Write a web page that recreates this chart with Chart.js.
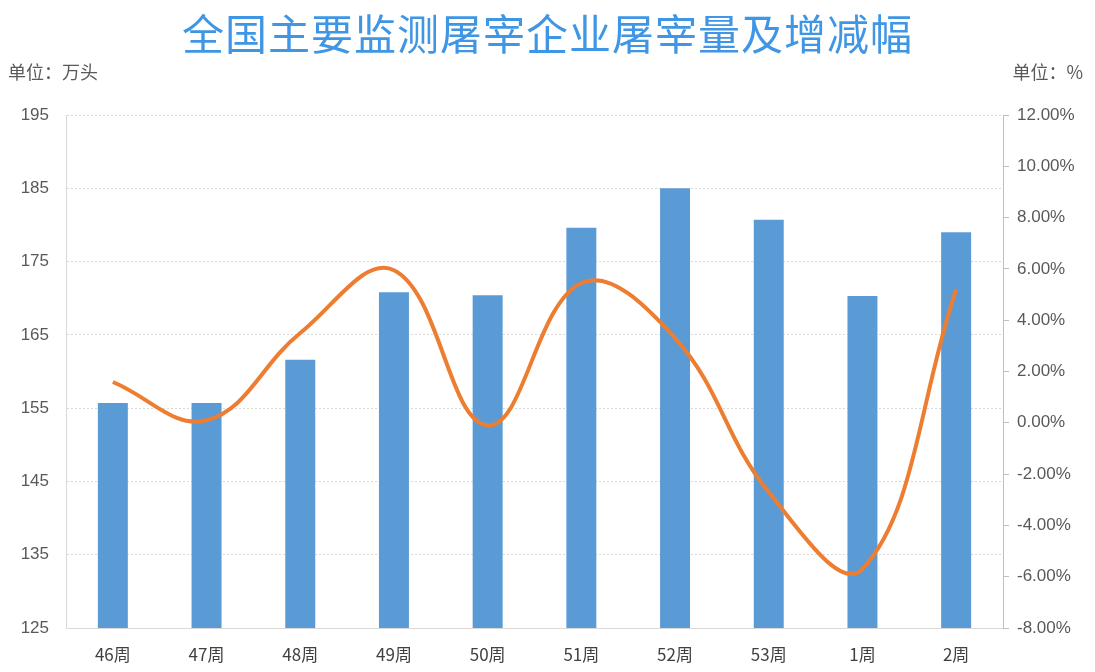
<!DOCTYPE html>
<html lang="zh">
<head>
<meta charset="UTF-8">
<title>全国主要监测屠宰企业屠宰量及增减幅</title>
<script src="https://cdn.jsdelivr.net/npm/chart.js"></script>
<style>
  html, body { margin: 0; padding: 0; background: #fff; }
  #wrap { position: relative; width: 1095px; height: 672px; font-family: "Noto Sans CJK SC", "Noto Sans", sans-serif; }
  #title { position: absolute; left: 0; top: 1px; width: 1095px; text-align: center; font-size: 42px; color: #3f96e4; letter-spacing: 1px; }
  .unit { position: absolute; top: 58px; font-size: 18px; color: #595959; }
  #unitL { left: 8px; }
  #unitR { right: 12px; }
  canvas { position: absolute; left: 0; top: 0; }
</style>
</head>
<body>
<div id="wrap">
  <canvas id="c" width="1095" height="672"></canvas>
  <div id="title">全国主要监测屠宰企业屠宰量及增减幅</div>
  <div class="unit" id="unitL">单位：万头</div>
  <div class="unit" id="unitR">单位：%</div>
</div>
<script>
const weeks = ['46周', '47周', '48周', '49周', '50周', '51周', '52周', '53周', '1周', '2周'];
const slaughter = [155.7, 155.7, 161.6, 170.8, 170.4, 179.6, 185.0, 180.7, 170.3, 179.0];
const changePct = [1.59, 0.10, 3.50, 5.95, -0.10, 5.45, 3.30, -2.70, -5.70, 5.20];

const tickFont = { family: 'Liberation Sans, Arial, sans-serif', size: 17 };

new Chart(document.getElementById('c'), {
  data: {
    labels: weeks,
    datasets: [
      {
        type: 'line',
        label: '增减幅',
        data: changePct,
        yAxisID: 'y1',
        borderColor: '#ed7d31',
        borderWidth: 4,
        tension: 0.4,
        pointRadius: 0,
        fill: false,
        order: 0
      },
      {
        type: 'bar',
        label: '屠宰量',
        data: slaughter,
        yAxisID: 'y',
        backgroundColor: '#5b9bd5',
        barPercentage: 0.64,
        categoryPercentage: 0.5,
        order: 1
      }
    ]
  },
  options: {
    responsive: false,
    animation: false,
    layout: { padding: { top: 115, left: 0, right: 0, bottom: 0 } },
    plugins: { legend: { display: false }, tooltip: { enabled: false } },
    scales: {
      x: {
        grid: { display: false },
        border: { color: '#d9d9d9', width: 1 },
        ticks: { color: '#404040', font: { family: 'Noto Sans CJK SC', size: 17 }, padding: 8 },
        afterFit: s => { s.height = 44; }
      },
      y: {
        position: 'left',
        min: 125,
        max: 195,
        ticks: { stepSize: 10, color: '#595959', font: tickFont, padding: 17 },
        grid: { color: '#d9d9d9', drawTicks: false },
        border: { color: '#d9d9d9', dash: [2, 2] },
        afterFit: s => { s.width = 66; }
      },
      y1: {
        position: 'right',
        min: -8,
        max: 12,
        ticks: {
          stepSize: 2,
          color: '#595959',
          font: tickFont,
          padding: 8,
          callback: v => v.toFixed(2) + '%'
        },
        grid: { drawOnChartArea: false, color: '#bfbfbf', tickLength: 6 },
        border: { color: '#bfbfbf' },
        afterFit: s => { s.width = 92; }
      }
    }
  }
});
</script>
</body>
</html>
